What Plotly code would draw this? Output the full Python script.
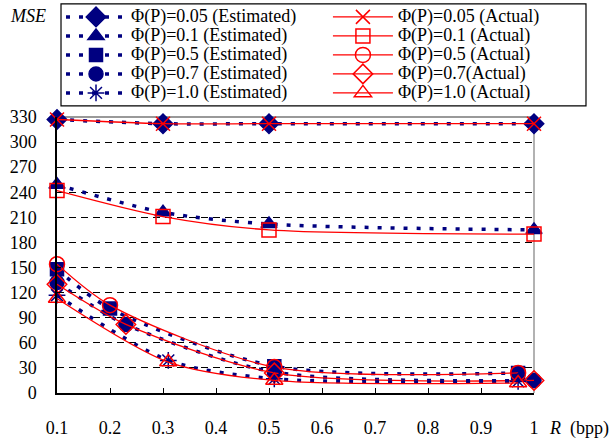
import plotly.graph_objects as go

# ---- data ----
x_005 = [0.1, 0.3, 0.5, 1.0]
est_005 = [327, 322, 322, 322]
act_005 = [327, 322, 322, 322]

x_01 = [0.1, 0.3, 0.5, 1.0]
est_01 = [249, 216, 202, 195]
act_01 = [242, 211, 195, 190]

x_05 = [0.1, 0.2, 0.51, 0.97]
est_05 = [148, 101, 32, 24]
act_05 = [154, 105, 31, 24]

x_07 = [0.1, 0.23, 0.51, 1.0]
est_07 = [132, 82, 25, 15]
act_07 = [130, 82, 24, 15]

x_10 = [0.1, 0.31, 0.51, 0.97]
est_10 = [117, 39, 17, 14]
act_10 = [113, 37, 15, 12]

x_ticks = [0.1, 0.2, 0.3, 0.4, 0.5, 0.6, 0.7, 0.8, 0.9, 1.0]
x_ticktext = ["0.1", "0.2", "0.3", "0.4", "0.5", "0.6", "0.7", "0.8", "0.9", "1"]
y_ticks = list(range(0, 331, 30))

est_names = ["Φ(P)=0.05 (Estimated)", "Φ(P)=0.1 (Estimated)", "Φ(P)=0.5 (Estimated)",
             "Φ(P)=0.7 (Estimated)", "Φ(P)=1.0 (Estimated)"]
act_names = ["Φ(P)=0.05 (Actual)", "Φ(P)=0.1 (Actual)", "Φ(P)=0.5 (Actual)",
             "Φ(P)=0.7(Actual)", "Φ(P)=1.0 (Actual)"]

NAVY = "#000080"
RED = "#FF0000"
FONT = "Liberation Serif"
LEG_TXT = '<span style="font-size:18px">{}</span>'

xs_all = [x_005, x_01, x_05, x_07, x_10]
est_all = [est_005, est_01, est_05, est_07, est_10]
act_all = [act_005, act_01, act_05, act_07, act_10]
est_sym = [("diamond", 15), ("triangle-up", 14), ("square", 13), ("circle", 14), ("asterisk-open", 14)]
act_sym = [("x-thin-open", 14), ("square-open", 14), ("circle-open", 15), ("diamond-open", 15), ("triangle-up-open", 15)]

fig = go.Figure()
for i in range(5):
    xs = xs_all[i]
    sym, sz = est_sym[i]
    fig.add_trace(go.Scatter(
        x=xs, y=est_all[i], mode="lines+markers", name=LEG_TXT.format(est_names[i]),
        legend="legend",
        line=dict(color=NAVY, width=3.5, dash="4px,9px", shape="spline", smoothing=0.8),
        marker=dict(symbol=sym, size=sz, color=NAVY, line=dict(color=NAVY, width=1.5)),
        cliponaxis=False))
    sym, sz = act_sym[i]
    fig.add_trace(go.Scatter(
        x=xs, y=act_all[i], mode="lines+markers", name=LEG_TXT.format(act_names[i]),
        legend="legend2",
        line=dict(color=RED, width=1.3, shape="spline", smoothing=0.8),
        marker=dict(symbol=sym, size=sz, color=RED, line=dict(color=RED, width=1.5)),
        cliponaxis=False))

leg_common = dict(orientation="v", yanchor="top", xanchor="left", y=1.4153,
                  bgcolor="rgba(0,0,0,0)", borderwidth=0, itemwidth=60,
                  font=dict(family=FONT, size=12.3, color="black"), tracegroupgap=0)

fig.update_layout(
    width=610, height=439,
    margin=dict(l=57, r=76, t=117, b=46, autoexpand=False),
    plot_bgcolor="white", paper_bgcolor="white",
    font=dict(family=FONT, size=18, color="black"),
    showlegend=True,
    legend=dict(x=0.0084, **leg_common),
    legend2=dict(x=0.568, **leg_common),
    xaxis=dict(
        range=[0.1, 1.0], tickvals=x_ticks, ticktext=x_ticktext,
        showgrid=False, zeroline=False, automargin=False,
        showline=True, linecolor="black", linewidth=1.5,
        ticks="inside", ticklen=5, tickcolor="black", tickwidth=1,
        ticklabelstandoff=18,
        tickfont=dict(family=FONT, size=18),
    ),
    yaxis=dict(
        range=[0, 330], tickvals=y_ticks,
        showgrid=True, gridcolor="black", gridwidth=1, griddash="7px,5px",
        zeroline=False, automargin=False,
        showline=True, linecolor="black", linewidth=1.5,
        ticks="inside", ticklen=4, tickcolor="black",
        ticklabelstandoff=15,
        tickfont=dict(family=FONT, size=18),
    ),
    shapes=[
        dict(type="rect", xref="paper", yref="paper", x0=0.0084, x1=1.109, y0=1.040, y1=1.4097,
             line=dict(color="black", width=1.2), fillcolor="white", layer="below"),
        dict(type="line", xref="paper", yref="paper", x0=0, x1=1, y0=1, y1=1,
             line=dict(color="#999999", width=2), layer="below"),
        dict(type="line", xref="paper", yref="paper", x0=1, x1=1, y0=0, y1=1,
             line=dict(color="#999999", width=1.5), layer="below"),
    ],
    annotations=[
        dict(text="<i>MSE</i>", xref="paper", yref="paper", x=-0.061, y=1.366,
             xanchor="center", yanchor="middle", showarrow=False,
             font=dict(family=FONT, size=18)),
        dict(text="<i>R</i>  (bpp)", xref="paper", yref="paper", x=1.027, y=-0.128,
             xanchor="left", yanchor="middle", showarrow=False,
             font=dict(family=FONT, size=18)),
    ],
)

fig.write_html("out.html")
